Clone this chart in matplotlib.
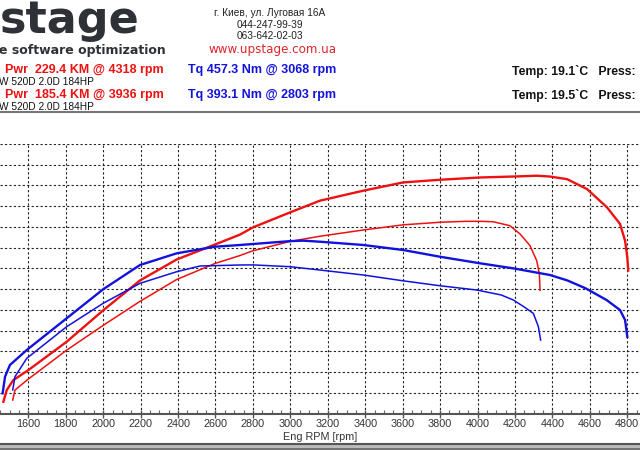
import matplotlib
matplotlib.use('Agg')
import matplotlib.pyplot as plt
from matplotlib.ticker import MultipleLocator

# dyno runs: tuned (thick) and stock (thin)
pwr_tuned_rpm = [1467, 1485, 1520, 1600, 1805, 2000, 2197, 2393, 2597, 2731, 2800, 2998, 3158, 3388,
                 3602, 3799, 4013, 4189, 4318, 4387, 4478, 4585, 4692, 4761, 4788, 4800, 4805]
pwr_tuned = [11.3, 22.6, 32.2, 41.8, 69.2, 99.5, 128.4, 148.6, 163.0, 172.6, 179.5, 194.0, 205.3, 214.9,
             222.9, 225.5, 227.7, 228.6, 229.4, 228.6, 226.1, 216.5, 198.8, 182.9, 166.8, 150.8, 138.0]

pwr_stock_rpm = [1517, 1529, 1600, 1805, 2000, 2197, 2393, 2597, 2731, 2800, 2998, 3158, 3388, 3602,
                 3799, 3936, 4013, 4083, 4173, 4227, 4280, 4316, 4330, 4334]
pwr_stock = [13.0, 22.6, 33.2, 61.1, 85.0, 108.2, 129.3, 144.7, 152.4, 157.0, 166.0, 171.0, 177.0, 182.0,
             184.5, 185.4, 185.4, 185.0, 181.2, 173.2, 162.0, 147.5, 135.0, 118.8]

tq_tuned_rpm = [1463, 1476, 1502, 1592, 1805, 2000, 2197, 2393, 2597, 2731, 2998, 3068, 3158, 3390,
                3603, 3799, 4013, 4191, 4387, 4480, 4578, 4690, 4761, 4788, 4800]
tq_tuned = [53.4, 97.4, 128.3, 168.0, 251.9, 328.6, 392.9, 423.8, 441.3, 445.8, 456.0, 457.3, 454.5, 445.8,
            432.5, 414.8, 397.4, 384.0, 366.4, 352.0, 331.0, 300.0, 273.8, 247.4, 203.0]

tq_stock_rpm = [1517, 1529, 1592, 1805, 2000, 2197, 2393, 2517, 2731, 2803, 2998, 3158, 3390, 3603,
                3799, 3996, 4127, 4191, 4247, 4298, 4325, 4337]
tq_stock = [62.2, 97.4, 146.0, 229.6, 291.5, 344.4, 375.1, 390.2, 392.9, 393.1, 388.4, 379.6, 366.4, 351.0,
            338.0, 326.7, 313.5, 300.3, 282.5, 265.0, 229.6, 194.4]

runs = [
    ('Pwr  229.4 KM @ 4318 rpm', 'Tq 457.3 Nm @ 3068 rpm', 'Temp: 19.1`C   Press:'),
    ('Pwr  185.4 KM @ 3936 rpm', 'Tq 393.1 Nm @ 2803 rpm', 'Temp: 19.5`C   Press:'),
]
car = 'W 520D 2.0D 184HP'

W, H = 640, 450
RED = '#ee1111'
BLUE = '#1212dd'
plt.rcParams['font.family'] = ['Liberation Sans', 'DejaVu Sans']

fig = plt.figure(figsize=(W / 100, H / 100), dpi=100)


def fy(y):
    return 1 - y / H


# header
fig.text(0, fy(33), 'stage', fontsize=32, fontweight='bold', color='#2e3136',
         family='DejaVu Sans', ha='left', va='baseline')
fig.text(-1 / W, fy(50.5), 'e software optimization', fontsize=9, fontweight='bold', color='#2e3136',
         family='DejaVu Sans', ha='left', va='center')
addr = ['г. Киев, ул. Луговая 16А', '044-247-99-39', '063-642-02-03']
for i, s in enumerate(addr):
    fig.text(270 / W, fy(13.5 + i * 11.3), s, fontsize=7.3, color='#222222',
             ha='center', va='center')
fig.text(273 / W, fy(49.5), 'www.upstage.com.ua', fontsize=8.6, color='#e0262b',
         family='DejaVu Sans', ha='center', va='center')

for i, (p, t, tmp) in enumerate(runs):
    y = 70 + i * 25
    fig.text(5 / W, fy(y), p, fontsize=9, fontweight='bold', color=RED,
             ha='left', va='center')
    fig.text(188 / W, fy(y), t, fontsize=9, fontweight='bold', color=BLUE,
             ha='left', va='center')
    fig.text(512 / W, fy(y + 1), tmp, fontsize=8.8, fontweight='bold', color='#111111',
             ha='left', va='center')
    fig.text(-1 / W, fy(y + 12), car, fontsize=7.3, color='#111111', ha='left', va='center')

fig.add_artist(plt.Line2D([0, 1], [fy(112), fy(112)], color='#777777', lw=1.5))

# chart area
x0, x1 = 1449, 1449 + W / 0.1872
ax = fig.add_axes([0, fy(413.5), 1, (413.5 - 144) / H])
ax.set_xlim(x0, x1)
ax.set_ylim(0, 260)
ax2 = ax.twinx()
ax2.set_ylim(0, 713)

ax.set_yticks(range(20, 261, 20))
ax.xaxis.set_major_locator(MultipleLocator(200))
ax.xaxis.set_minor_locator(MultipleLocator(50))
ax.tick_params(axis='y', left=False, labelleft=False)
ax2.tick_params(axis='y', right=False, labelright=False)
ax.tick_params(axis='x', which='major', direction='inout', length=6, width=1, color='#555555',
               labelsize=7.8, labelcolor='#333333', pad=1)
ax.tick_params(axis='x', which='minor', direction='in', length=3, width=0.8, color='#666666')
ax.grid(True, which='major', color='#222222', linestyle=(0, (2, 2)), linewidth=0.8)
for a in (ax, ax2):
    for s in ('top', 'left', 'right'):
        a.spines[s].set_visible(False)
ax2.spines['bottom'].set_visible(False)
ax.spines['bottom'].set_color('#555555')
ax.spines['bottom'].set_linewidth(1.5)

ax.plot(pwr_stock_rpm, pwr_stock, color=RED, lw=1.1)
ax.plot(pwr_tuned_rpm, pwr_tuned, color=RED, lw=1.7)
ax2.plot(tq_stock_rpm, tq_stock, color=BLUE, lw=1.1)
ax2.plot(tq_tuned_rpm, tq_tuned, color=BLUE, lw=1.7)

fig.text(320 / W, fy(436.5), 'Eng RPM [rpm]', fontsize=7.8, color='#333333', ha='center', va='center')

# window border at the bottom
fig.add_artist(plt.Rectangle((0, 0), 1, 7.5 / H, color='#bbbbbb', lw=0))
fig.add_artist(plt.Line2D([0, 1], [fy(443.8), fy(443.8)], color='#555555', lw=1.5))
fig.add_artist(plt.Line2D([0, 1], [fy(448.5), fy(448.5)], color='#666666', lw=1.2))

fig.savefig('out.png', dpi=100)
